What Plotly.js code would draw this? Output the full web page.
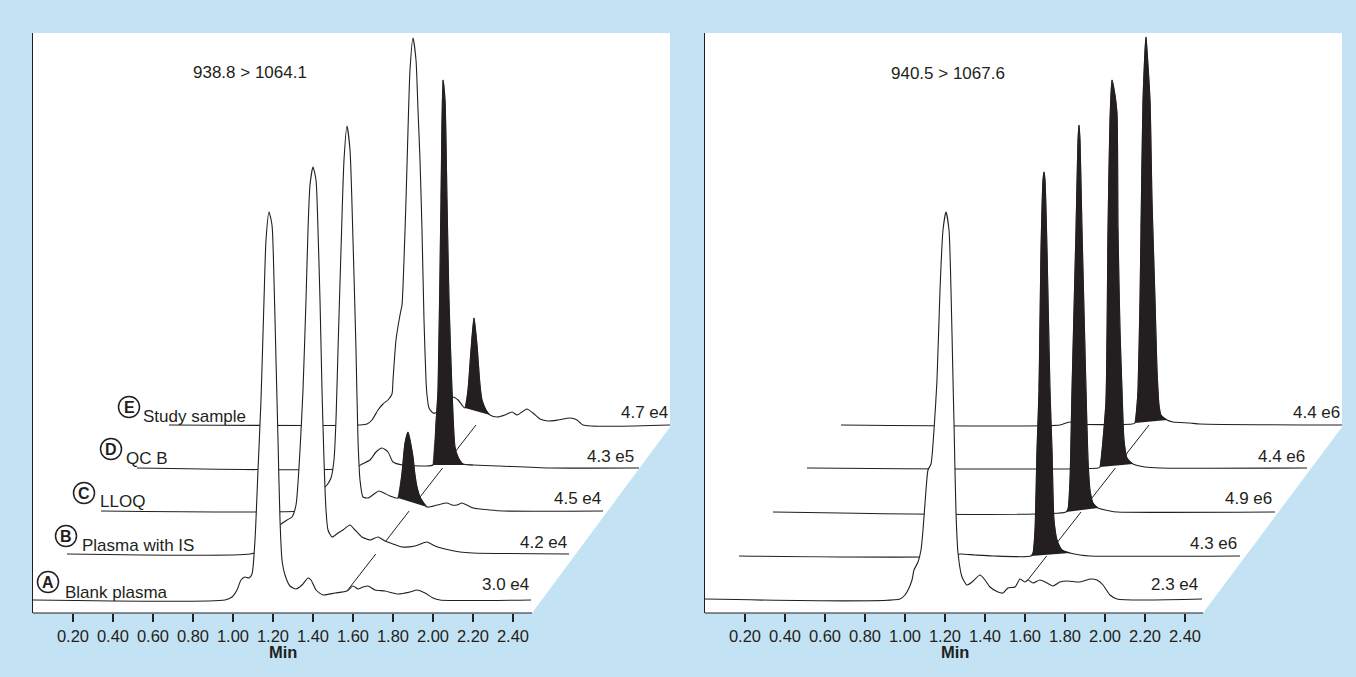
<!DOCTYPE html>
<html><head><meta charset="utf-8">
<script src="https://cdn.plot.ly/plotly-3.0.1.min.js"></script>
<style>html,body{margin:0;padding:0;background:#c3e3f4;}#chart{width:1356px;height:677px;}</style>
</head><body><div id="chart"></div>
<script>
// ---------- DATA ----------
const levelLetters = ['A','B','C','D','E'];
const levelNames = ['Blank plasma','Plasma with IS','LLOQ','QC B','Study sample'];
const leftTransition = '938.8 > 1064.1';
const rightTransition = '940.5 > 1067.6';
const leftScales = ['3.0 e4','4.2 e4','4.5 e4','4.3 e5','4.7 e4'];
const rightScales = ['2.3 e4','4.3 e6','4.9 e6','4.4 e6','4.4 e6'];
const tickVals = [0.2,0.4,0.6,0.8,1.0,1.2,1.4,1.6,1.8,2.0,2.2,2.4];
const tickText = ['0.20','0.40','0.60','0.80','1.00','1.20','1.40','1.60','1.80','2.00','2.20','2.40'];
const axisTitle = 'Min';

// left panel (938.8 > 1064.1): time (min) and response for each sample
const leftA_t = [0,0.96,0.995,1.02,1.04,1.06,1.08,1.095,1.11,1.125,1.14,1.155,1.165,1.18,1.195,1.205,1.215,1.225,1.235,1.245,1.26,1.285,1.315,1.345,1.375,1.39,1.415,1.45,1.51,1.57,1.60,1.625,1.65,1.675,1.71,1.76,1.825,1.885,1.92,1.96,2.00,2.035,2.49];
const leftA_r = [0,0,3,10,20,23,22,26,60,130,200,300,360,388,375,320,240,160,80,40,25,14,11,15,22,20,10,5,7,9,14,11,13,14,10,9,6,8,10,7,2,0,0];
const leftB_t = [0,0.915,0.975,1.025,1.065,1.10,1.125,1.145,1.165,1.18,1.195,1.205,1.215,1.23,1.245,1.255,1.265,1.275,1.285,1.295,1.305,1.325,1.355,1.38,1.415,1.44,1.475,1.515,1.555,1.59,1.63,1.675,1.74,1.80,1.84,1.89,1.965,2.03,2.51];
const leftB_r = [0,0,4,16,29,34,37,49,104,164,254,324,369,387,374,324,254,164,94,44,24,17,21,24,29,24,17,14,17,13,10,7,8,12,8,5,2,1,0];
const leftC_t = [0,0.995,1.055,1.085,1.105,1.13,1.15,1.165,1.175,1.185,1.20,1.215,1.23,1.245,1.26,1.275,1.285,1.295,1.31,1.335,1.365,1.39,1.415,1.445,1.485,1.505,1.52,1.535,1.55,1.56,1.57,1.58,1.595,1.63,1.68,1.73,1.755,1.78,1.805,1.86,1.945,2.01,2.51];
const leftC_r = [0,0,3,11,21,26,33,51,91,161,261,351,385,361,271,161,71,31,14,13,17,20,18,15,13,38,68,79,66,54,36,24,14,4,6,8,6,6,8,3,1,0,0];
const leftD_t = [0.01,1.10,1.135,1.175,1.205,1.235,1.265,1.29,1.34,1.45,1.49,1.505,1.515,1.53,1.54,1.55,1.56,1.57,1.585,1.60,1.615,1.64,1.69,1.825,2.075,2.52];
const leftD_r = [0,0,4,8,16,20,16,6,3,2,3,45,78,268,388,368,268,168,78,21,11,4,3,2,0,0];
const leftE_t = [0,0.955,0.99,1.015,1.045,1.07,1.095,1.115,1.12,1.135,1.155,1.165,1.175,1.185,1.195,1.205,1.22,1.235,1.245,1.255,1.265,1.275,1.285,1.29,1.30,1.32,1.345,1.38,1.42,1.445,1.48,1.495,1.51,1.525,1.54,1.555,1.565,1.585,1.605,1.64,1.68,1.715,1.74,1.765,1.79,1.82,1.855,1.895,1.945,2.005,2.04,2.07,2.505];
const leftE_r = [0,0,1,5,15,21,25,31,45,85,110,120,165,225,295,355,387,365,315,265,195,105,45,30,17,12,13,23,28,25,17,35,75,107,80,40,25,15,10,8,10,13,10,13,16,12,6,4,5,7,5,0,0];
const leftBlackStart = [null,null,1.485,1.49,1.48];
const leftBlackEnd   = [null,null,1.63,1.69,1.605];
const leftAnalyteRT = 1.535;

// right panel (940.5 > 1067.6)
const rightA_t = [0,0.975,1.00,1.02,1.035,1.045,1.065,1.08,1.09,1.105,1.115,1.13,1.145,1.16,1.175,1.19,1.205,1.22,1.23,1.24,1.245,1.255,1.265,1.285,1.31,1.335,1.375,1.40,1.425,1.465,1.49,1.515,1.55,1.575,1.60,1.615,1.64,1.675,1.71,1.74,1.775,1.81,1.875,1.925,1.96,1.99,2.025,2.06,2.485];
const rightA_r = [0,0,4,11,19,29,37,49,69,109,129,135,169,219,309,369,387,369,309,219,176,86,46,22,14,17,24,19,12,7,6,11,12,20,17,19,16,19,16,13,17,18,17,20,19,14,4,0,0];
const rightB_t = [0,1.08,1.105,1.18,1.27,1.46,1.47,1.48,1.49,1.50,1.51,1.52,1.525,1.53,1.54,1.555,1.565,1.575,1.59,1.615,1.655,1.705,1.755,2.505];
const rightB_r = [0,0,2,1,0,0,3,26,106,166,306,376,384,376,306,166,106,36,16,6,3,1,0,0];
const rightC_t = [0,1.465,1.475,1.485,1.495,1.515,1.525,1.53,1.535,1.545,1.565,1.575,1.585,1.60,1.625,1.685,1.72,2.51];
const rightC_r = [0,0,3,32,122,282,372,387,372,282,122,52,22,9,4,1,0,0];
const rightD_t = [0,1.455,1.465,1.48,1.495,1.505,1.515,1.525,1.54,1.55,1.555,1.565,1.575,1.585,1.60,1.63,1.69,1.765,2.50];
const rightD_r = [0,0,1,28,68,238,348,388,373,355,238,138,78,28,10,4,1,0,0];
const rightE_t = [0,1.095,1.125,1.145,1.175,1.455,1.47,1.48,1.485,1.495,1.50,1.51,1.52,1.525,1.53,1.545,1.555,1.57,1.58,1.585,1.59,1.60,1.63,1.66,1.745,1.795,2.505];
const rightE_r = [0,0,2,3,1,1,2,20,35,125,195,325,375,388,375,325,225,125,55,35,20,10,5,3,2,1,0];
const rightBlackStart = [null,1.46,1.465,1.465,1.47];
const rightBlackEnd   = [null,1.655,1.625,1.63,1.63];
const rightAnalyteRT = 1.54;

// ---------- LAYOUT CONSTANTS ----------
const W = 1356, H = 677;
const INK = '#231f20', BLUE = '#c3e3f4';
const FONT = 'Liberation Sans, Arial, Helvetica, sans-serif';
const DX = 0.17;                       // horizontal offset per stacked trace (min)
const leftBase = [13,59,102,145,188];  // vertical offset per stacked trace
const rightBase = [14,57,101,145,188];
const fx = p => p / W;
const fy = p => 1 - p / H;

function panel(xa, ya, times, resps, base, bS, bE, rt) {
  const out = [];
  out.push({x:[rt, rt + DX*4], y:[base[0], base[4]], xaxis:xa, yaxis:ya, mode:'lines',
    line:{color:INK, width:1}, hoverinfo:'skip', showlegend:false});
  for (let i = 4; i >= 0; i--) {
    const t = times[i], r = resps[i];
    out.push({x:t.map(v => v + DX*i), y:r.map(v => v + base[i]), xaxis:xa, yaxis:ya,
      mode:'lines', fill:'toself', fillcolor:'#ffffff',
      line:{color:INK, width:1.1, shape:'spline', smoothing:0.6}, hoverinfo:'skip', showlegend:false});
    if (bS[i] !== null) {
      const bx = [], by = [];
      t.forEach((v, k) => { if (v >= bS[i] - 1e-9 && v <= bE[i] + 1e-9) { bx.push(v + DX*i); by.push(r[k] + base[i]); } });
      out.push({x:bx, y:by, xaxis:xa, yaxis:ya, mode:'lines', fill:'toself', fillcolor:INK,
        line:{color:INK, width:0.6, shape:'spline', smoothing:0.6}, hoverinfo:'skip', showlegend:false});
    }
  }
  return out;
}

const traces = [].concat(
  panel('x','y',[leftA_t,leftB_t,leftC_t,leftD_t,leftE_t],[leftA_r,leftB_r,leftC_r,leftD_r,leftE_r],leftBase,leftBlackStart,leftBlackEnd,leftAnalyteRT),
  panel('x2','y2',[rightA_t,rightB_t,rightC_t,rightD_t,rightE_t],[rightA_r,rightB_r,rightC_r,rightD_r,rightE_r],rightBase,rightBlackStart,rightBlackEnd,rightAnalyteRT)
);

function xAxis(d0, d1, anchor) {
  return {domain:[fx(d0), fx(d1)], range:[0, (d1 - d0)/200], anchor:anchor,
    showgrid:false, zeroline:false, showline:false, ticks:'outside', ticklen:8, tickwidth:1.1,
    tickcolor:INK, tickvals:tickVals, ticktext:tickText, tickfont:{family:FONT, size:16.5, color:INK},
    fixedrange:true};
}
function yAxis(anchor) {
  return {domain:[fy(613), fy(33)], range:[0,580], anchor:anchor, showgrid:false, zeroline:false,
    showline:true, linecolor:INK, linewidth:1.1, ticks:'', showticklabels:false, fixedrange:true};
}

const shapes = [
  {type:'path', xref:'paper', yref:'paper', layer:'below', fillcolor:'#ffffff', line:{width:0},
    path:`M ${fx(33)},${fy(33)} L ${fx(670)},${fy(33)} L ${fx(670)},${fy(427)} L ${fx(532)},${fy(613)} L ${fx(33)},${fy(613)} Z`},
  {type:'path', xref:'paper', yref:'paper', layer:'below', fillcolor:'#ffffff', line:{width:0},
    path:`M ${fx(705)},${fy(33)} L ${fx(1342)},${fy(33)} L ${fx(1342)},${fy(427)} L ${fx(1203)},${fy(613)} L ${fx(705)},${fy(613)} Z`},
  {type:'line', xref:'paper', yref:'paper', x0:fx(33), x1:fx(532), y0:fy(613), y1:fy(613), line:{color:INK, width:1.2}},
  {type:'line', xref:'paper', yref:'paper', x0:fx(705), x1:fx(1203), y0:fy(613), y1:fy(613), line:{color:INK, width:1.2}}
];

const annotations = [];
function txt(text, x, y, xanchor, size, bold) {
  annotations.push({text: bold ? '<b>' + text + '</b>' : text, xref:'paper', yref:'paper', x:fx(x), y:fy(y),
    xanchor:xanchor, yanchor:'middle', showarrow:false, font:{family:FONT, size:size, color:INK}, borderpad:0});
}
txt(leftTransition, 250, 72, 'center', 17);
txt(rightTransition, 948, 73, 'center', 17);
txt(axisTitle, 283, 652, 'center', 16.5, true);
txt(axisTitle, 955, 652, 'center', 16.5, true);

const circleC = [[48,582],[66,536],[84,493],[111,449],[129,407]];
const labelPos = [[64,592],[81,545],[99,501],[125,458],[142,416]];
for (let i = 0; i < 5; i++) {
  const [cx, cy] = circleC[i];
  shapes.push({type:'circle', xref:'paper', yref:'paper', x0:fx(cx-10.5), x1:fx(cx+10.5), y0:fy(cy+10.5), y1:fy(cy-10.5),
    line:{color:INK, width:1.5}, fillcolor:'rgba(0,0,0,0)'});
  txt(levelLetters[i], cx, cy + 0.5, 'center', 16, true);
  txt(levelNames[i], labelPos[i][0], labelPos[i][1], 'left', 17);
}
const leftScaleEnd = [[530,584],[568,542],[602,498],[635,456],[669,412]];
const rightScaleEnd = [[1199,584],[1238,543],[1273,498],[1306,456],[1341,412]];
for (let i = 0; i < 5; i++) {
  txt(leftScales[i], leftScaleEnd[i][0], leftScaleEnd[i][1], 'right', 17);
  txt(rightScales[i], rightScaleEnd[i][0], rightScaleEnd[i][1], 'right', 17);
}

const layout = {
  width:W, height:H, margin:{l:0, r:0, t:0, b:0}, paper_bgcolor:BLUE, plot_bgcolor:'rgba(0,0,0,0)',
  showlegend:false, xaxis:xAxis(33, 670, 'y'), yaxis:yAxis('x'),
  xaxis2:xAxis(705, 1342, 'y2'), yaxis2:yAxis('x2'),
  shapes:shapes, annotations:annotations, font:{family:FONT, color:INK}
};
Plotly.newPlot('chart', traces, layout, {displayModeBar:false, staticPlot:true});
</script></body></html>
